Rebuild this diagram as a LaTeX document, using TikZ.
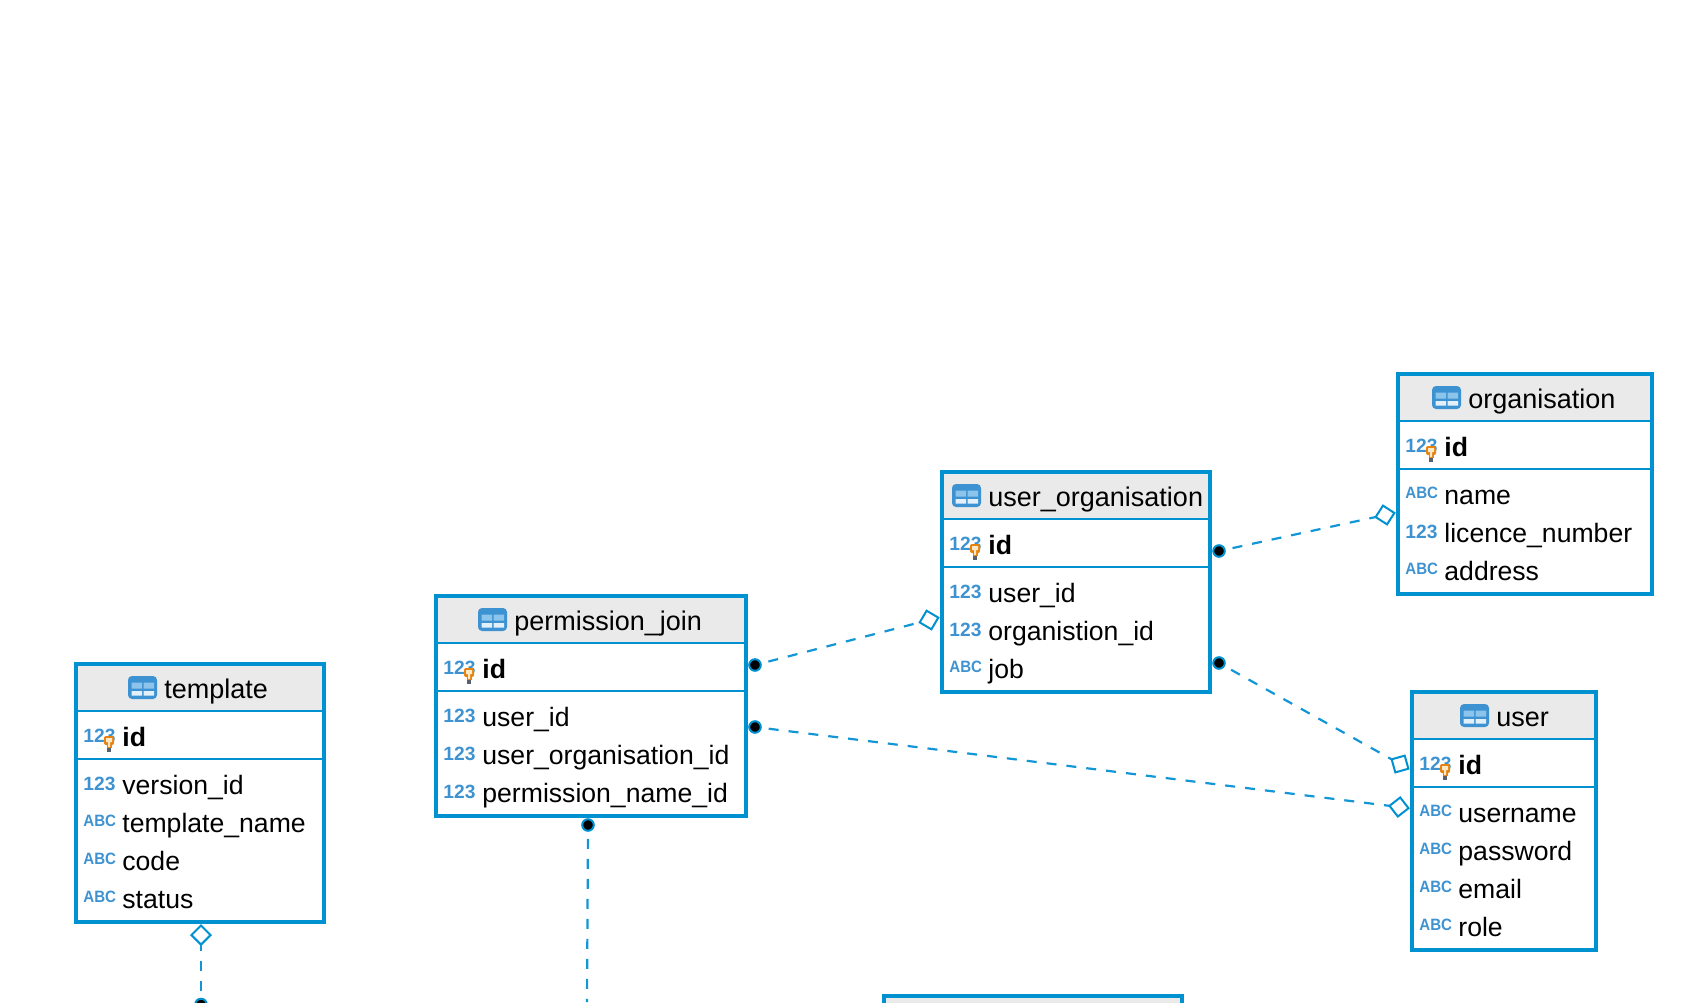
\documentclass[tikz,border=0pt]{standalone}
\usepackage{fontspec}
\setmainfont{Liberation Sans}
\newfontfamily\abcfont[FakeStretch=0.92]{Liberation Sans}
\usepackage{xcolor}
\usepackage{tikz}
\usetikzlibrary{positioning,shapes.geometric}
\definecolor{tableblue}{HTML}{0092D0}
\definecolor{linkblue}{HTML}{1296D6}
\definecolor{tagblue}{HTML}{3D92D2}
\definecolor{cellblue}{HTML}{8CC4EC}
\definecolor{cellwhite}{HTML}{E4F0F9}
\definecolor{headgray}{HTML}{EAEAEA}
\definecolor{keyorange}{HTML}{E8820C}
\definecolor{keycream}{HTML}{FBE9C8}
\definecolor{keygray}{HTML}{56606E}
\tikzset{
	tablemark/.pic={
		\fill[tagblue, rounded corners=2pt] (0,0) rectangle (29,23);
		\fill[cellblue] (3.5,6.5) rectangle (14,12.5) (15.5,6.5) rectangle (26,12.5);
		\fill[cellwhite] (3.5,15) rectangle (14,19.5) (15.5,15) rectangle (26,19.5);
	},
	keymark/.pic={
		\fill[keyorange, rounded corners=1pt] (0,0) rectangle (10,9);
		\fill[keyorange] (2.5,9) rectangle (7.5,12);
		\fill[keycream] (2,2) rectangle (8,6) (4,6) rectangle (6,11);
		\fill[keygray] (3,12) rectangle (7,16);
	}
}

\begin{document}
\begin{tikzpicture}[x=0.5pt, y=-0.5pt]
	\tikzstyle{tablebox}=[draw=tableblue, line width=2pt, anchor=north west, inner sep=0pt, outer sep=0pt]
	\tikzstyle{headbox}=[fill=headgray, anchor=north west, inner sep=0pt, outer sep=0pt, minimum height=23.5pt]
	\tikzstyle{idbox}=[inner sep=0pt, outer sep=0pt, minimum height=24pt]
	\tikzstyle{rowline}=[draw=tableblue, line width=1pt]
	\tikzstyle{colname}=[anchor=base west, inner sep=0pt, xshift=-0.5pt, font=\fontsize{13.3}{16}\selectfont]
	\tikzstyle{headname}=[colname, yshift=-0.5pt, font=\fontsize{13.5}{16}\selectfont]
	\tikzstyle{keyname}=[colname, font=\fontsize{13.3}{16}\selectfont\bfseries]
	\tikzstyle{numtag}=[anchor=base west, inner sep=0pt, xshift=-0.5pt, yshift=2pt, text=tagblue, font=\fontsize{9.6}{12}\selectfont\bfseries]
	\tikzstyle{abctag}=[anchor=base west, inner sep=0pt, xshift=-0.5pt, yshift=2.6pt, text=tagblue, font=\fontsize{8.2}{10}\abcfont\bfseries]
	\tikzstyle{fkdot}=[circle, fill=black, draw=tableblue, line width=1pt, inner sep=0pt, outer sep=0pt, minimum size=5.8pt]
	\tikzstyle{fkdia}=[diamond, aspect=1, fill=white, draw=tableblue, line width=1pt, inner sep=0pt, outer sep=0pt, minimum width=9.6pt, minimum height=9.6pt]
	\tikzstyle{fkline}=[draw=linkblue, line width=1.1pt, dash pattern=on 5pt off 5pt, dash phase=6pt]
	\useasboundingbox (0,0) rectangle (1690,1002);
	\clip (0,0) rectangle (1690,1002);

	\node[headbox, minimum width=124pt] (tpl_head) at (76,664) {};
	\node[idbox, minimum width=124pt, below=0pt of tpl_head] (tpl_idrow) {};
	\node[tablebox, minimum width=124pt, minimum height=129pt] (tpl) at (76,664) {};
	\draw[rowline] (tpl_head.south west) -- (tpl_head.south east) (tpl_idrow.south west) -- (tpl_idrow.south east);
	\pic at (128,676) {tablemark};
	\node[headname] (tpl_name) at (165,697) {template};
	\node[numtag] (tpl_t0) at (84,746) {123}; \node[keyname] (tpl_c0) at (123,746) {id};
	\pic at (104,736) {keymark};
	\node[numtag] (tpl_t1) at (84,794) {123}; \node[colname] (tpl_c1) at (123,794) {version\_id};
	\node[abctag] (tpl_t2) at (84,832) {ABC}; \node[colname] (tpl_c2) at (123,832) {template\_name};
	\node[abctag] (tpl_t3) at (84,870) {ABC}; \node[colname] (tpl_c3) at (123,870) {code};
	\node[abctag] (tpl_t4) at (84,908) {ABC}; \node[colname] (tpl_c4) at (123,908) {status};

	\node[headbox, minimum width=155pt] (perm_head) at (436,596) {};
	\node[idbox, minimum width=155pt, below=0pt of perm_head] (perm_idrow) {};
	\node[tablebox, minimum width=155pt, minimum height=110pt] (perm) at (436,596) {};
	\draw[rowline] (perm_head.south west) -- (perm_head.south east) (perm_idrow.south west) -- (perm_idrow.south east);
	\pic at (478,608) {tablemark};
	\node[headname] (perm_name) at (515,629) {permission\_join};
	\node[numtag] (perm_t0) at (444,678) {123}; \node[keyname] (perm_c0) at (483,678) {id};
	\pic at (464,668) {keymark};
	\node[numtag] (perm_t1) at (444,726) {123}; \node[colname] (perm_c1) at (483,726) {user\_id};
	\node[numtag] (perm_t2) at (444,764) {123}; \node[colname] (perm_c2) at (483,764) {user\_organisation\_id};
	\node[numtag] (perm_t3) at (444,802) {123}; \node[colname] (perm_c3) at (483,802) {permission\_name\_id};

	\node[headbox, minimum width=134pt] (uorg_head) at (942,472) {};
	\node[idbox, minimum width=134pt, below=0pt of uorg_head] (uorg_idrow) {};
	\node[tablebox, minimum width=134pt, minimum height=110pt] (uorg) at (942,472) {};
	\draw[rowline] (uorg_head.south west) -- (uorg_head.south east) (uorg_idrow.south west) -- (uorg_idrow.south east);
	\pic at (952,484) {tablemark};
	\node[headname] (uorg_name) at (989,505) {user\_organisation};
	\node[numtag] (uorg_t0) at (950,554) {123}; \node[keyname] (uorg_c0) at (989,554) {id};
	\pic at (970,544) {keymark};
	\node[numtag] (uorg_t1) at (950,602) {123}; \node[colname] (uorg_c1) at (989,602) {user\_id};
	\node[numtag] (uorg_t2) at (950,640) {123}; \node[colname] (uorg_c2) at (989,640) {organistion\_id};
	\node[abctag] (uorg_t3) at (950,678) {ABC}; \node[colname] (uorg_c3) at (989,678) {job};

	\node[headbox, minimum width=127pt] (org_head) at (1398,374) {};
	\node[idbox, minimum width=127pt, below=0pt of org_head] (org_idrow) {};
	\node[tablebox, minimum width=127pt, minimum height=110pt] (org) at (1398,374) {};
	\draw[rowline] (org_head.south west) -- (org_head.south east) (org_idrow.south west) -- (org_idrow.south east);
	\pic at (1432,386) {tablemark};
	\node[headname] (org_name) at (1469,407) {organisation};
	\node[numtag] (org_t0) at (1406,456) {123}; \node[keyname] (org_c0) at (1445,456) {id};
	\pic at (1426,446) {keymark};
	\node[abctag] (org_t1) at (1406,504) {ABC}; \node[colname] (org_c1) at (1445,504) {name};
	\node[numtag] (org_t2) at (1406,542) {123}; \node[colname] (org_c2) at (1445,542) {licence\_number};
	\node[abctag] (org_t3) at (1406,580) {ABC}; \node[colname] (org_c3) at (1445,580) {address};

	\node[headbox, minimum width=92pt] (usr_head) at (1412,692) {};
	\node[idbox, minimum width=92pt, below=0pt of usr_head] (usr_idrow) {};
	\node[tablebox, minimum width=92pt, minimum height=129pt] (usr) at (1412,692) {};
	\draw[rowline] (usr_head.south west) -- (usr_head.south east) (usr_idrow.south west) -- (usr_idrow.south east);
	\pic at (1460,704) {tablemark};
	\node[headname] (usr_name) at (1497,725) {user};
	\node[numtag] (usr_t0) at (1420,774) {123}; \node[keyname] (usr_c0) at (1459,774) {id};
	\pic at (1440,764) {keymark};
	\node[abctag] (usr_t1) at (1420,822) {ABC}; \node[colname] (usr_c1) at (1459,822) {username};
	\node[abctag] (usr_t2) at (1420,860) {ABC}; \node[colname] (usr_c2) at (1459,860) {password};
	\node[abctag] (usr_t3) at (1420,898) {ABC}; \node[colname] (usr_c3) at (1459,898) {email};
	\node[abctag] (usr_t4) at (1420,936) {ABC}; \node[colname] (usr_c4) at (1459,936) {role};

	\node[headbox, minimum width=149pt] (low_head) at (884,996) {};
	\node[tablebox, minimum width=149pt, minimum height=60pt] (low) at (884,996) {};

	\node[fkdot] (perm_dot1) at (755,665) {};
	\node[fkdot] (perm_dot2) at (755,727) {};
	\node[fkdot] (perm_dot3) at (588,825) {};
	\node[fkdot] (uorg_dot1) at (1219,551) {};
	\node[fkdot] (uorg_dot2) at (1219,663) {};
	\node[fkdot] (tpl_dot) at (201,1004.5) {};
	\node[fkdia, rotate=14.5] (uorg_dia) at (929,620) {};
	\node[fkdia, rotate=12.2] (org_dia) at (1385,515) {};
	\node[fkdia, rotate=-29.2] (usr_dia1) at (1400,764) {};
	\node[fkdia, rotate=-7.1] (usr_dia2) at (1399,807) {};
	\node[fkdia] (tpl_dia) at (201,935) {};
	\coordinate (perm_end) at (587,1002);
	\path
	(perm_dot1) edge[fkline] (uorg_dia)
	(perm_dot2) edge[fkline] (usr_dia2)
	(perm_dot3) edge[fkline] (perm_end)
	(uorg_dot1) edge[fkline] (org_dia)
	(uorg_dot2) edge[fkline] (usr_dia1)
	(tpl_dot) edge[fkline] (tpl_dia);
\end{tikzpicture}
\end{document}
